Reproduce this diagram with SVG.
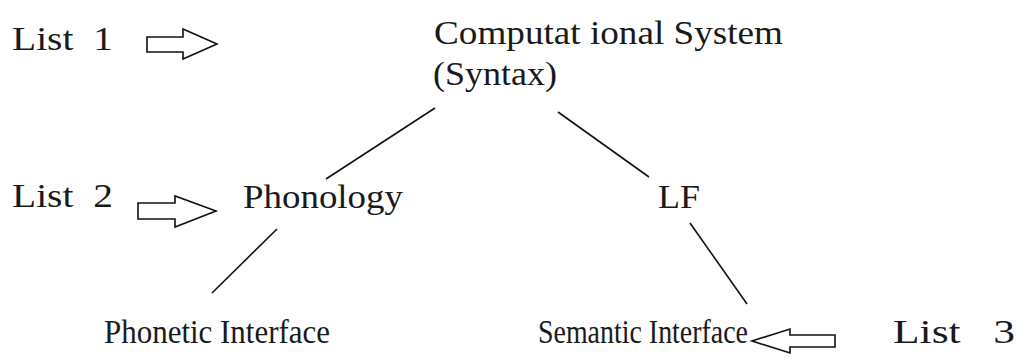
<svg xmlns="http://www.w3.org/2000/svg" width="1018" height="358" viewBox="0 0 1018 358">
<style>
text{font-family:"Liberation Serif","Times New Roman",serif;font-size:33px;fill:#1a1a1a}
.conn{stroke:#111;stroke-width:1.6;fill:none}
.arr{stroke:#111;stroke-width:1.6;fill:#fff;stroke-linejoin:miter}
</style>
<rect width="1018" height="358" fill="#fff"/>
<g id="list1">
<text x="12" y="50" textLength="101" lengthAdjust="spacingAndGlyphs" xml:space="preserve">List  1</text>
<path class="arr" d="M147,37 H183 V29 L217,44 L183,59 V52 H147 Z"/>
</g>
<g id="syntax">
<text x="434" y="44" textLength="349" lengthAdjust="spacingAndGlyphs">Computat ional System</text>
<text x="433" y="85" textLength="124" lengthAdjust="spacingAndGlyphs">(Syntax)</text>
</g>
<g id="list2">
<text x="12" y="207" textLength="101" lengthAdjust="spacingAndGlyphs" xml:space="preserve">List  2</text>
<path class="arr" d="M138,203 H175 V196 L216,211 L175,227 V219 H138 Z"/>
</g>
<g id="phonology">
<text x="243" y="208" textLength="160" lengthAdjust="spacingAndGlyphs">Phonology</text>
</g>
<g id="lf">
<text x="658" y="208" textLength="42" lengthAdjust="spacingAndGlyphs">LF</text>
</g>
<g id="phonetic">
<text x="104" y="343" textLength="226" lengthAdjust="spacingAndGlyphs">Phonetic Interface</text>
</g>
<g id="semantic">
<text x="538" y="343" textLength="210" lengthAdjust="spacingAndGlyphs">Semantic Interface</text>
</g>
<g id="list3">
<path class="arr" d="M835,335 H790 V329 L752,341 L790,353 V347 H835 Z"/>
<text x="893" y="343" textLength="122" lengthAdjust="spacingAndGlyphs" xml:space="preserve">List   3</text>
</g>
<g id="connectors">
<line class="conn" x1="435" y1="108" x2="326" y2="179"/>
<line class="conn" x1="558" y1="112" x2="649" y2="177"/>
<line class="conn" x1="277" y1="229" x2="212" y2="293"/>
<line class="conn" x1="690" y1="223" x2="747" y2="304"/>
</g>
</svg>
